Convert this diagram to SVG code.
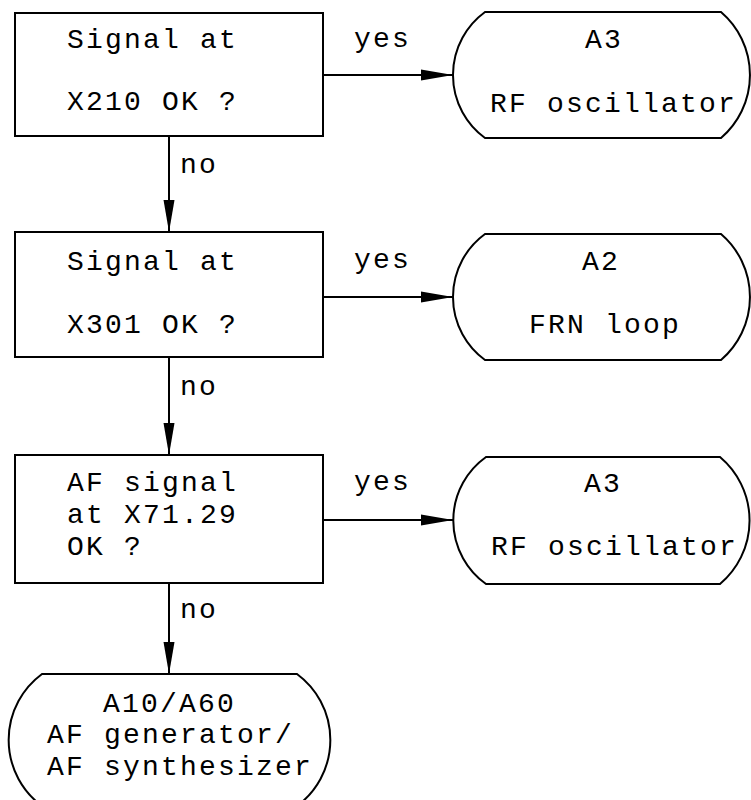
<svg xmlns="http://www.w3.org/2000/svg" width="751" height="800" viewBox="0 0 751 800">
<style>
  .shape { fill: #ffffff; stroke: #000000; stroke-width: 2; }
  .conn { fill: none; stroke: #000000; stroke-width: 2; }
  text { font-family: "Liberation Mono", "DejaVu Sans Mono", monospace; font-size: 28px; letter-spacing: 2.2px; fill: #000000; }
</style>
<defs>
  <marker id="arrow" markerUnits="userSpaceOnUse" markerWidth="32" markerHeight="12" refX="32" refY="6" orient="auto">
    <path d="M0,0.5 L32,6 L0,11.5 Z" fill="#000000"/>
  </marker>
</defs>
<rect width="751" height="800" fill="#ffffff"/>

<g id="connectors">
  <line class="conn" x1="323" y1="75" x2="453" y2="75" marker-end="url(#arrow)"/>
  <line class="conn" x1="169" y1="136" x2="169" y2="232" marker-end="url(#arrow)"/>
  <line class="conn" x1="323" y1="297" x2="453" y2="297" marker-end="url(#arrow)"/>
  <line class="conn" x1="169" y1="357" x2="169" y2="455" marker-end="url(#arrow)"/>
  <line class="conn" x1="323" y1="520" x2="453" y2="520" marker-end="url(#arrow)"/>
  <line class="conn" x1="169" y1="583" x2="169" y2="674" marker-end="url(#arrow)"/>
  <text x="354" y="47">yes</text>
  <text x="180" y="173">no</text>
  <text x="354" y="268">yes</text>
  <text x="180" y="395">no</text>
  <text x="354" y="490">yes</text>
  <text x="180" y="618">no</text>
</g>

<g id="q1">
  <rect class="shape" x="15" y="13" width="308" height="123"/>
  <text x="67" y="48">Signal at</text>
  <text x="67" y="110">X210 OK ?</text>
</g>

<g id="t1">
  <path class="shape" d="M485,12 H721 A83,83 0 0 1 721,138 H485 A78,78 0 0 1 485,12 Z"/>
  <text x="585" y="48">A3</text>
  <text x="490" y="112">RF oscillator</text>
</g>

<g id="q2">
  <rect class="shape" x="15" y="232" width="308" height="125"/>
  <text x="67" y="270">Signal at</text>
  <text x="67" y="333">X301 OK ?</text>
</g>

<g id="t2">
  <path class="shape" d="M485,234 H721 A83,83 0 0 1 721,360 H485 A78,78 0 0 1 485,234 Z"/>
  <text x="582" y="270">A2</text>
  <text x="529" y="333">FRN loop</text>
</g>

<g id="q3">
  <rect class="shape" x="15" y="455" width="308" height="128"/>
  <text x="67" y="491">AF signal</text>
  <text x="67" y="523">at X71.29</text>
  <text x="67" y="555">OK ?</text>
</g>

<g id="t3">
  <path class="shape" d="M486,457 H720 A83,83 0 0 1 720,584 H486 A78,78 0 0 1 486,457 Z"/>
  <text x="584" y="492">A3</text>
  <text x="491" y="555">RF oscillator</text>
</g>

<g id="t4">
  <path class="shape" d="M42,674 H297 A82,82 0 0 1 297,806 H42 A82,82 0 0 1 42,674 Z"/>
  <text x="103" y="712">A10/A60</text>
  <text x="47" y="743">AF generator/</text>
  <text x="47" y="775">AF synthesizer</text>
</g>
</svg>
